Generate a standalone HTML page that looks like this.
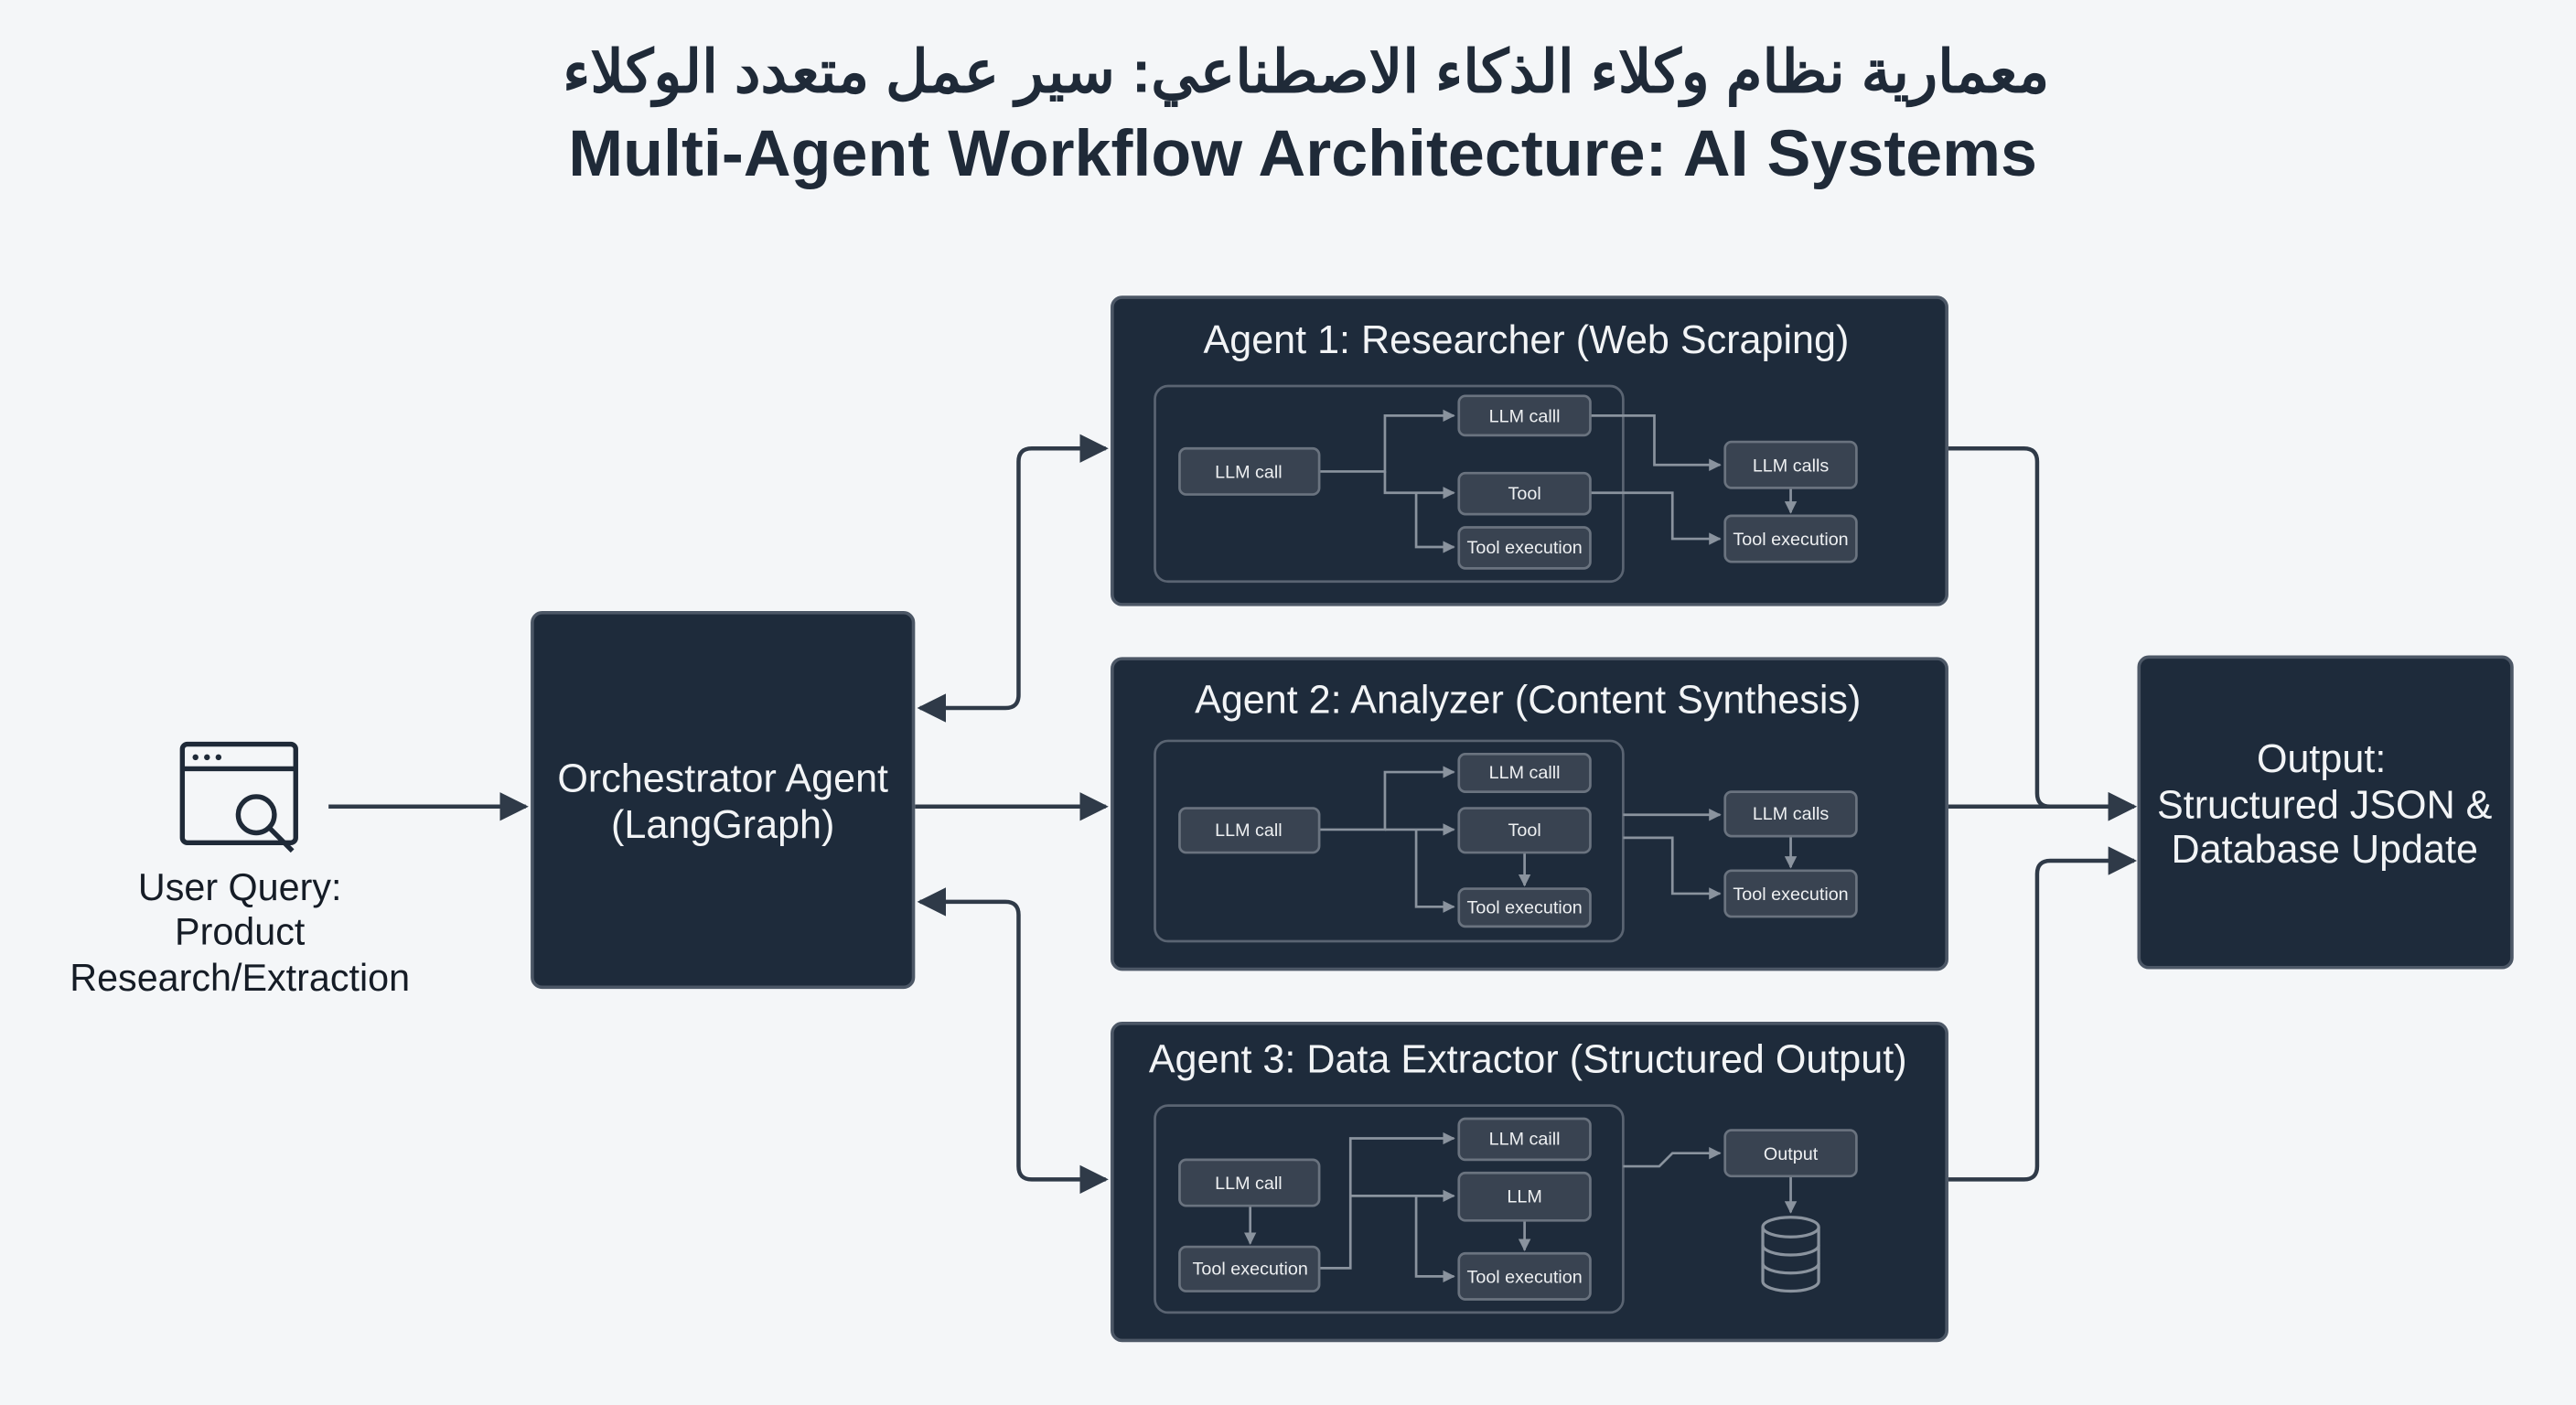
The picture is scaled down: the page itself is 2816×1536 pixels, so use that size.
<!DOCTYPE html>
<html><head><meta charset="utf-8"><style>
html,body{margin:0;padding:0;background:#f4f6f8;}
svg{display:block}
text{font-family:"Liberation Sans","Noto Sans CJK SC",sans-serif;}
</style></head><body>
<svg width="2816" height="1536" viewBox="0 0 1568 855.3" preserveAspectRatio="none" xmlns="http://www.w3.org/2000/svg">
<defs>
<marker id="ah" viewBox="0 0 10 10" refX="9" refY="5" markerWidth="7" markerHeight="7" orient="auto-start-reverse"><path d="M0,0 L10,5 L0,10 z" fill="#2f3a48"/></marker>
<marker id="sh" viewBox="0 0 10 10" refX="9" refY="5" markerWidth="5" markerHeight="5" orient="auto"><path d="M0,0 L10,5 L0,10 z" fill="#8a939e"/></marker>
</defs>
<rect width="1568" height="856" fill="#f4f6f8"/>
<text x="795" y="56" text-anchor="middle" font-size="36" font-weight="bold" fill="#1f2a38" direction="rtl" textLength="905" lengthAdjust="spacingAndGlyphs">معمارية نظام وكلاء الذكاء الاصطناعي: سير عمل متعدد الوكلاء</text>
<text x="793" y="107" text-anchor="middle" font-size="40" font-weight="bold" fill="#1f2a38">Multi-Agent Workflow Architecture: AI Systems</text>

<g stroke="#2f3a48" stroke-width="2.5" fill="none">
<path d="M200 491 H320" marker-end="url(#ah)"/>
<path d="M557 491 H673" marker-end="url(#ah)"/>
<path d="M560 431 H612 Q620 431 620 423 V281 Q620 273 628 273 H673" marker-end="url(#ah)" marker-start="url(#ah)"/>
<path d="M560 549 H612 Q620 549 620 557 V710 Q620 718 628 718 H673" marker-end="url(#ah)" marker-start="url(#ah)"/>
<path d="M1186 273 H1232 Q1240 273 1240 281 V483 Q1240 491 1248 491 H1299" marker-end="url(#ah)"/>
<path d="M1186 491 H1299" marker-end="url(#ah)"/>
<path d="M1186 718 H1232 Q1240 718 1240 710 V532 Q1240 524 1248 524 H1299" marker-end="url(#ah)"/>
</g>

<g stroke="#1f2a38" stroke-width="3" fill="none">
<rect x="111" y="453" width="69" height="60" rx="3"/>
<line x1="111" y1="468" x2="180" y2="468"/>
<circle cx="156" cy="496" r="11"/>
<line x1="164" y1="504" x2="178" y2="518"/>
</g>
<g fill="#1f2a38"><circle cx="119" cy="461" r="1.8"/><circle cx="126" cy="461" r="1.8"/><circle cx="133" cy="461" r="1.8"/></g>
<g font-size="23" fill="#151c26" text-anchor="middle">
<text x="146" y="548">User Query:</text><text x="146" y="575">Product</text><text x="146" y="603">Research/Extraction</text>
</g>

<rect x="324" y="373" width="232" height="228" rx="6" fill="#1e2b3b" stroke="#4c5766" stroke-width="2"/>
<g font-size="24" fill="#f2f4f6" text-anchor="middle"><text x="440" y="482">Orchestrator Agent</text><text x="440" y="510">(LangGraph)</text></g>

<rect x="1302" y="400" width="227" height="189" rx="6" fill="#1e2b3b" stroke="#4c5766" stroke-width="2"/>
<g font-size="24" fill="#f2f4f6" text-anchor="middle"><text x="1413" y="470">Output:</text><text x="1415" y="498">Structured JSON &amp;</text><text x="1415" y="525">Database Update</text></g>

<g fill="#1e2b3b" stroke="#4c5766" stroke-width="2">
<rect x="677" y="181" width="508" height="187" rx="6"/>
<rect x="677" y="401" width="508" height="189" rx="6"/>
<rect x="677" y="623" width="508" height="193" rx="6"/>
</g>
<g fill="none" stroke="#5a6472" stroke-width="1.5">
<rect x="703" y="235" width="285" height="119" rx="8"/>
<rect x="703" y="451" width="285" height="122" rx="8"/>
<rect x="703" y="673" width="285" height="126" rx="8"/>
</g>
<g font-size="24" fill="#f2f4f6" text-anchor="middle">
<text x="929" y="215">Agent 1: Researcher (Web Scraping)</text>
<text x="930" y="434">Agent 2: Analyzer (Content Synthesis)</text>
<text x="930" y="653">Agent 3: Data Extractor (Structured Output)</text>
</g>

<g stroke="#8a939e" stroke-width="1.5" fill="none">
<path d="M803 287 H843 V253 H885" marker-end="url(#sh)"/>
<path d="M843 287 V300 H885" marker-end="url(#sh)"/>
<path d="M862 300 V333 H885" marker-end="url(#sh)"/>
<path d="M968 253 H1007 V283 H1047" marker-end="url(#sh)"/>
<path d="M968 300 H1018 V328 H1047" marker-end="url(#sh)"/>
<path d="M1090 297 V312" marker-end="url(#sh)"/>
<path d="M803 505 H843 V470 H885" marker-end="url(#sh)"/>
<path d="M843 505 H885" marker-end="url(#sh)"/>
<path d="M862 505 V552 H885" marker-end="url(#sh)"/>
<path d="M928 519 V539" marker-end="url(#sh)"/>
<path d="M988 496 H1047" marker-end="url(#sh)"/>
<path d="M988 510 H1018 V544 H1047" marker-end="url(#sh)"/>
<path d="M1090 509 V528" marker-end="url(#sh)"/>
<path d="M761 734 V757" marker-end="url(#sh)"/>
<path d="M803 772 H822 V693 H885" marker-end="url(#sh)"/>
<path d="M822 728 H885" marker-end="url(#sh)"/>
<path d="M862 728 V777 H885" marker-end="url(#sh)"/>
<path d="M928 743 V761" marker-end="url(#sh)"/>
<path d="M988 710 H1010 L1018 702 H1047" marker-end="url(#sh)"/>
<path d="M1090 716 V738" marker-end="url(#sh)"/>
</g>

<g fill="#394351" stroke="#6a737f" stroke-width="1.5">
<rect x="718" y="273" width="85" height="28" rx="4"/>
<rect x="888" y="241" width="80" height="24" rx="4"/>
<rect x="888" y="288" width="80" height="25" rx="4"/>
<rect x="888" y="321" width="80" height="25" rx="4"/>
<rect x="1050" y="269" width="80" height="28" rx="4"/>
<rect x="1050" y="314" width="80" height="28" rx="4"/>
<rect x="718" y="492" width="85" height="27" rx="4"/>
<rect x="888" y="459" width="80" height="23" rx="4"/>
<rect x="888" y="492" width="80" height="27" rx="4"/>
<rect x="888" y="541" width="80" height="23" rx="4"/>
<rect x="1050" y="482" width="80" height="27" rx="4"/>
<rect x="1050" y="530" width="80" height="28" rx="4"/>
<rect x="718" y="706" width="85" height="28" rx="4"/>
<rect x="718" y="759" width="85" height="27" rx="4"/>
<rect x="888" y="681" width="80" height="25" rx="4"/>
<rect x="888" y="714" width="80" height="29" rx="4"/>
<rect x="888" y="763" width="80" height="28" rx="4"/>
<rect x="1050" y="688" width="80" height="28" rx="4"/>
</g>
<g font-size="11" fill="#eef0f2" text-anchor="middle">
<text x="760" y="291">LLM call</text><text x="928" y="257">LLM calll</text><text x="928" y="304">Tool</text><text x="928" y="337">Tool execution</text><text x="1090" y="287">LLM calls</text><text x="1090" y="332">Tool execution</text>
<text x="760" y="509">LLM call</text><text x="928" y="474">LLM calll</text><text x="928" y="509">Tool</text><text x="928" y="556">Tool execution</text><text x="1090" y="499">LLM calls</text><text x="1090" y="548">Tool execution</text>
<text x="760" y="724">LLM call</text><text x="761" y="776">Tool execution</text><text x="928" y="697">LLM caill</text><text x="928" y="732">LLM</text><text x="928" y="781">Tool execution</text><text x="1090" y="706">Output</text>
</g>
<g fill="none" stroke="#8a939e" stroke-width="1.8">
<ellipse cx="1090" cy="747" rx="17" ry="6"/>
<path d="M1073 747 V780 A17 6 0 0 0 1107 780 V747"/>
<path d="M1073 758 A17 6 0 0 0 1107 758"/>
<path d="M1073 769 A17 6 0 0 0 1107 769"/>
</g>
</svg>
</body></html>
